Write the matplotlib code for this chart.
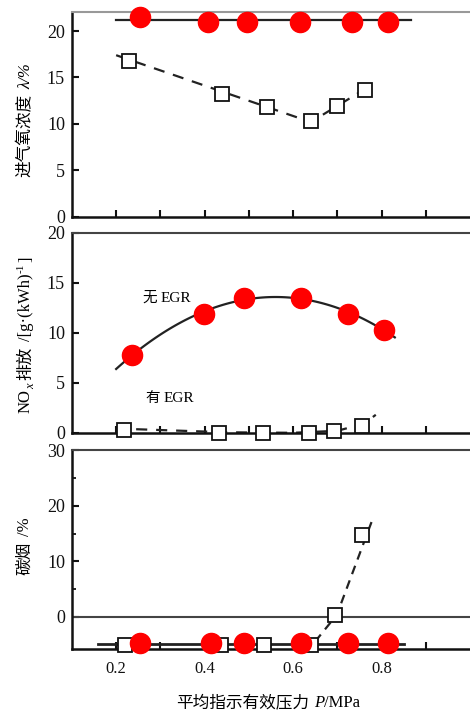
import numpy as np
import matplotlib
matplotlib.use('Agg')
import matplotlib.pyplot as plt
from matplotlib.transforms import IdentityTransform

# load, MPa
# intake oxygen concentration, %
o2_noegr_x = [0.254, 0.408, 0.496, 0.615, 0.733, 0.814]
o2_noegr_y = [21.5, 21.0, 21.0, 21.0, 21.0, 21.0]
o2_egr_x = [0.229, 0.439, 0.541, 0.640, 0.699, 0.762]
o2_egr_y = [16.8, 13.2, 11.8, 10.3, 11.9, 13.7]
o2_noegr_line_x = [0.2, 0.866]
o2_noegr_line_y = [21.2, 21.2]
o2_egr_line_x = [0.2, 0.64, 0.778]
o2_egr_line_y = [17.4, 10.2, 14.2]

# NOx emission, g/kWh
nox_noegr_x = [0.236, 0.399, 0.490, 0.618, 0.724, 0.806]
nox_noegr_y = [7.8, 11.9, 13.5, 13.5, 11.9, 10.3]
nox_egr_x = [0.218, 0.433, 0.532, 0.636, 0.692, 0.755]
nox_egr_y = [0.3, 0.0, 0.0, 0.0, 0.2, 0.7]
nox_egr_line_x = [0.2, 0.25, 0.45, 0.6, 0.7, 0.76, 0.787]
nox_egr_line_y = [0.4, 0.35, 0.05, 0.0, 0.2, 0.9, 1.8]

# smoke, %
smoke_noegr_x = [0.254, 0.414, 0.489, 0.618, 0.724, 0.814]
smoke_noegr_y = [-4.7, -4.7, -4.7, -4.7, -4.7, -4.7]
smoke_egr_x = [0.220, 0.437, 0.534, 0.640, 0.694, 0.755]
smoke_egr_y = [-5.0, -5.0, -5.0, -5.0, 0.4, 14.8]
smoke_base_x = [0.16, 0.85]
smoke_base_y = [-4.9, -4.9]
smoke_egr_line_x = [0.65, 0.699, 0.778]
smoke_egr_line_y = [-4.4, 0.4, 17.2]

x_ticks = [0.2, 0.3, 0.4, 0.5, 0.6, 0.7, 0.8, 0.9]
x_labels = ['0.2', '', '0.4', '', '0.6', '', '0.8', '']

CJK = 'Noto Sans CJK SC'
SERIF = 'Liberation Serif'
plt.rcParams['font.family'] = [SERIF, CJK]

fig = plt.figure(figsize=(4.7, 7.13), dpi=100)

def setup(ax, ylim, yticks, top_color):
    ax.set_xlim(0.1, 1.0)
    ax.set_ylim(*ylim)
    ax.set_xticks(x_ticks)
    ax.set_yticks(yticks)
    ax.spines['right'].set_visible(False)
    for s in ['left', 'bottom']:
        ax.spines[s].set_linewidth(1.8)
        ax.spines[s].set_color('#111111')
    ax.spines['top'].set_linewidth(1.5)
    ax.spines['top'].set_color(top_color)
    ax.tick_params(direction='in', length=5, width=1.5, pad=5, colors='#111111')
    ax.tick_params(axis='y', labelsize=13)
    ax.tick_params(axis='x', labelsize=12)
    for lab in ax.get_yticklabels() + ax.get_xticklabels():
        lab.set_family(SERIF)

red = dict(marker='o', ms=14.5, color='#ff0000', mec='#ff0000', ls='none',
           zorder=5, clip_on=False)
sq = dict(marker='s', ms=10, mfc='white', mec='#111111', mew=1.3, ls='none',
          zorder=4, clip_on=False)

# top panel
ax1 = fig.add_axes([0.153, 0.696, 0.847, 0.287])
setup(ax1, (0, 22.04), [0, 5, 10, 15, 20], '#999999')
ax1.set_xticklabels([])
ax1.plot(o2_noegr_line_x, o2_noegr_line_y, color='#222222', lw=1.6)
ax1.plot(o2_egr_line_x, o2_egr_line_y, color='#222222', lw=1.6, ls=(0, (5, 4)))
ax1.plot(o2_noegr_x, o2_noegr_y, **red)
ax1.plot(o2_egr_x, o2_egr_y, **sq)

# middle panel
ax2 = fig.add_axes([0.153, 0.393, 0.847, 0.2805])
setup(ax2, (0, 20), [0, 5, 10, 15, 20], '#444444')
ax2.set_xticklabels([])
coef = np.polyfit(nox_noegr_x, nox_noegr_y, 2)
xs = np.linspace(0.2, 0.83, 100)
ax2.plot(xs, np.polyval(coef, xs), color='#222222', lw=1.6)
ax2.plot(nox_egr_line_x, nox_egr_line_y, color='#222222', lw=1.6, ls=(0, (5, 4)))
ax2.plot(nox_noegr_x, nox_noegr_y, **red)
ax2.plot(nox_egr_x, nox_egr_y, **sq)

# bottom panel
ax3 = fig.add_axes([0.153, 0.0898, 0.847, 0.279])
setup(ax3, (-5.75, 30), [0, 10, 20, 30], '#444444')
ax3.set_yticks([5, 15, 25], minor=True)
ax3.tick_params(which='minor', direction='in', length=3, width=1.2)
ax3.tick_params(axis='x', pad=9)
ax3.set_xticklabels(x_labels)
ax3.axhline(0, color='#444444', lw=1.5)
ax3.plot(smoke_base_x, smoke_base_y, color='#222222', lw=2.0)
ax3.plot(smoke_egr_line_x, smoke_egr_line_y, color='#222222', lw=1.6, ls=(0, (4, 3)))
ax3.plot(smoke_egr_x, smoke_egr_y, **sq)
ax3.plot(smoke_noegr_x, smoke_noegr_y, **red)


def rich(x, y, parts, rotation=0, center=False):
    # parts: (text, gap_px, perp_px, kwargs); x, y in pixels from bottom-left
    r = fig.canvas.get_renderer()
    arts = []
    pos = 0
    for s, gap, perp, kw in parts:
        pos += gap
        if rotation:
            t = fig.text(x - perp, y + pos, s, transform=IdentityTransform(),
                         rotation=90, rotation_mode='anchor', ha='left',
                         va='baseline', **kw)
            pos += t.get_window_extent(r).height
        else:
            t = fig.text(x + pos, y + perp, s, transform=IdentityTransform(),
                         ha='left', va='baseline', **kw)
            pos += t.get_window_extent(r).width
        arts.append(t)
    if center:
        for t in arts:
            px, py = t.get_position()
            t.set_position((px - pos / 2, py))


cj = dict(family=CJK, fontsize=12)
se = dict(family=SERIF, fontsize=12)
sei = dict(family=SERIF, fontsize=12, style='italic')

rich(30, 536, [('进气氧浓度', 0, 0, cj), ('λ/%', 5, 0, sei)], rotation=90)
rich(30, 300, [('NO', 0, 0, se),
               ('x', 0, -4, dict(family=SERIF, fontsize=9, style='italic')),
               ('排放', 4, 0, cj), ('/[g·(kWh)', 5, 0, se),
               ('-1', 1, 6, dict(family=SERIF, fontsize=8)),
               (']', 1, 0, se)], rotation=90)
rich(29, 138, [('碳烟', 0, 0, cj), ('/%', 6, 0, se)], rotation=90)

rich(268, 6, [('平均指示有效压力', 0, 0, cj), ('P', 5, 0, sei), ('/MPa', 0, 0, se)],
     center=True)

rich(142, 411, [('无', 0, 0, dict(family=CJK, fontsize=10.5)),
                ('EGR', 4, 0, dict(family=SERIF, fontsize=11))])
rich(145, 311, [('有', 0, 0, dict(family=CJK, fontsize=10.5)),
                ('EGR', 4, 0, dict(family=SERIF, fontsize=11))])

fig.savefig('out.png', dpi=100)
